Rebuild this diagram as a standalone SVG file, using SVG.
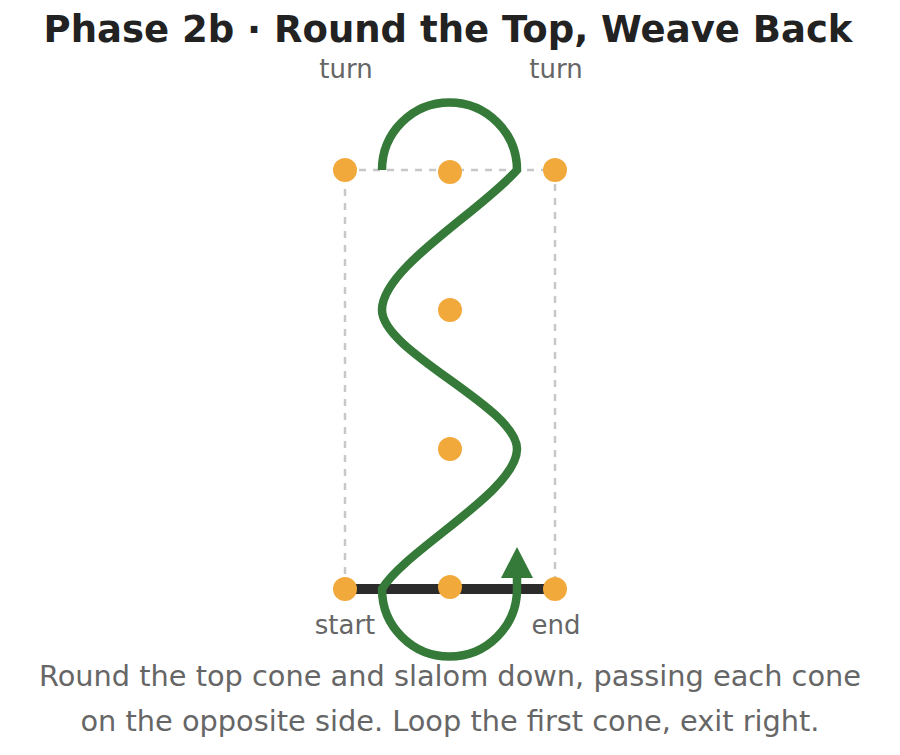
<svg xmlns="http://www.w3.org/2000/svg" width="900" height="755" viewBox="0 0 900 755">
<style>
.title{font-family:"DejaVu Sans",sans-serif;font-weight:bold;font-size:37px;fill:#222;text-anchor:middle}
.lbl{font-family:"DejaVu Sans",sans-serif;font-size:26px;fill:#666;text-anchor:middle}
.cap{font-family:"DejaVu Sans",sans-serif;font-size:28.8px;fill:#666;text-anchor:middle}
.cone{fill:#f2a93b}
.route{fill:none;stroke:#357a38;stroke-width:8.5}
</style>
<rect width="900" height="755" fill="#fff"/>
<text class="title" x="448" y="42">Phase 2b · Round the Top, Weave Back</text>
<g id="box">
<rect x="345" y="170" width="210" height="419" fill="none" stroke="#c8c8c8" stroke-width="2.5" stroke-dasharray="7 7"/>
</g>
<g id="startline">
<line x1="345" y1="589" x2="555" y2="589" stroke="#2b2b2b" stroke-width="10"/>
</g>
<g id="connectors">
<path class="route" d="M382,170 A67.5,67.5 0 0 1 517,170 C480,212 382,268 382,310 C382,352 517,407 517,449 C517,491 405,550 382,589 A67.5,67.5 0 0 0 517,589 L517,560"/>
<path d="M517,547 L533,578 L501,578 Z" fill="#357a38"/>
</g>
<g id="cone-tl"><circle class="cone" cx="345" cy="170" r="12"/></g>
<g id="cone-top"><circle class="cone" cx="450" cy="172" r="12"/></g>
<g id="cone-tr"><circle class="cone" cx="555" cy="170" r="12"/></g>
<g id="cone-2"><circle class="cone" cx="450" cy="310" r="12"/></g>
<g id="cone-3"><circle class="cone" cx="450" cy="449" r="12"/></g>
<g id="cone-1"><circle class="cone" cx="450" cy="587" r="12"/></g>
<g id="start"><circle class="cone" cx="345" cy="589" r="12"/><text class="lbl" x="345" y="634">start</text></g>
<g id="end"><circle class="cone" cx="555" cy="589" r="12"/><text class="lbl" x="556" y="634">end</text></g>
<g id="turn-l"><text class="lbl" x="346" y="78">turn</text></g>
<g id="turn-r"><text class="lbl" x="556" y="78">turn</text></g>
<text class="cap" x="450" y="686">Round the top cone and slalom down, passing each cone</text>
<text class="cap" x="450" y="731">on the opposite side. Loop the first cone, exit right.</text>
</svg>
